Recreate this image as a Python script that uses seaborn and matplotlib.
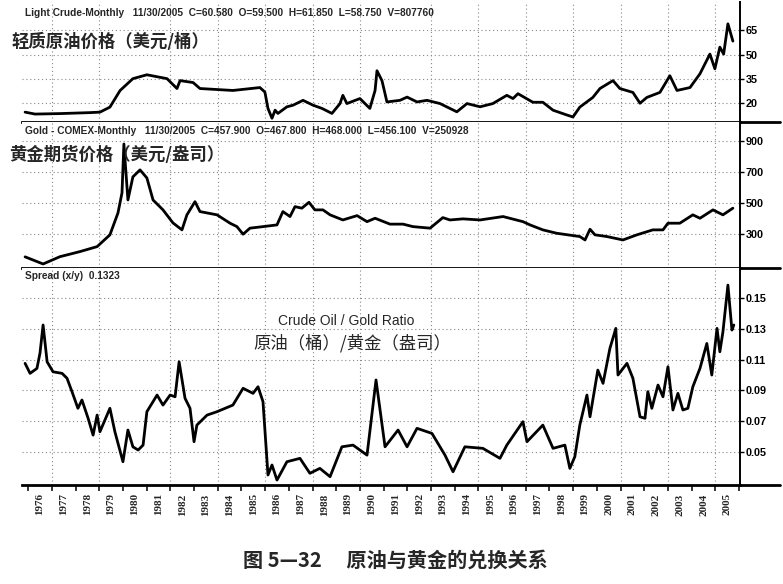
import numpy as np
import pandas as pd
import matplotlib
matplotlib.use("Agg")
import matplotlib.pyplot as plt
import seaborn as sns
from matplotlib.ticker import FixedLocator

# Data (x in years; tick marks sit at year starts)
oil_years = [1975.87, 1976.29, 1977.34, 1978.61, 1979.03, 1979.45, 1979.88, 1980.42, 1981.01,
             1981.86, 1982.28, 1982.41, 1982.96, 1983.25, 1984.64, 1985.78, 1985.99, 1986.12,
             1986.29, 1986.42, 1986.54, 1986.92, 1987.18, 1987.60, 1988.02, 1988.40, 1988.82,
             1989.16, 1989.28, 1989.45, 1990.00, 1990.42, 1990.64, 1990.72, 1990.93, 1991.06,
             1991.14, 1991.69, 1991.99, 1992.41, 1992.83, 1993.38, 1994.09, 1994.52, 1995.07,
             1995.61, 1996.20, 1996.46, 1996.67, 1997.30, 1997.72, 1998.15, 1998.74, 1998.99,
             1999.28, 1999.83, 2000.13, 2000.68, 2000.97, 2001.52, 2001.82, 2002.11, 2002.66,
             2003.08, 2003.38, 2003.93, 2004.35, 2004.77, 2004.98, 2005.19, 2005.35, 2005.53,
             2005.74]
oil_price = [14.5, 13.3, 13.6, 14.2, 14.5, 17.6, 27.9, 35.2, 37.6,
             35.2, 29.1, 34.0, 32.8, 29.1, 27.9, 29.7, 26.9, 16.8,
             10.7, 15.7, 13.7, 17.8, 18.8, 21.8, 18.8, 16.8, 13.7,
             19.8, 24.9, 19.8, 22.9, 16.8, 27.9, 40.1, 34.0, 25.9,
             20.8, 21.8, 23.8, 20.8, 21.8, 19.8, 14.7, 19.8, 17.8,
             19.8, 24.9, 22.9, 25.9, 20.6, 20.6, 15.7, 12.7, 11.5,
             17.6, 23.6, 29.1, 34.0, 29.1, 26.7, 20.0, 23.6, 26.7,
             37.0, 27.9, 29.7, 38.2, 50.4, 41.3, 54.7, 50.4, 69.1,
             58.4]

gold_years = [1975.87, 1976.63, 1977.34, 1978.19, 1978.91, 1979.45, 1979.79, 1979.96, 1980.04,
              1980.21, 1980.42, 1980.72, 1981.01, 1981.27, 1981.69, 1982.11, 1982.49, 1982.70,
              1983.04, 1983.25, 1983.97, 1984.52, 1984.81, 1985.07, 1985.36, 1985.91, 1986.50,
              1986.75, 1987.05, 1987.26, 1987.55, 1987.85, 1988.10, 1988.44, 1988.74, 1989.28,
              1989.88, 1990.30, 1990.64, 1991.27, 1991.82, 1992.24, 1992.96, 1993.50, 1993.80,
              1994.35, 1995.07, 1996.04, 1996.88, 1997.18, 1997.72, 1998.31, 1999.28, 1999.50,
              1999.71, 1999.92, 2000.42, 2001.10, 2001.69, 2002.36, 2002.79, 2003.00, 2003.50,
              2004.05, 2004.35, 2004.90, 2005.32, 2005.74]
gold_price = [152, 106, 153, 186, 218, 294, 435, 565, 880,
              519, 668, 713, 661, 519, 455, 371, 326, 423,
              508, 444, 423, 369, 347, 298, 337, 347, 358,
              444, 412, 476, 466, 504, 455, 455, 423, 390,
              418, 379, 401, 363, 363, 347, 337, 405, 390,
              397, 390, 412, 379, 358, 326, 304, 283, 261,
              330, 294, 283, 261, 294, 326, 326, 369, 369,
              423, 401, 455, 423, 466]

ratio_years = [1975.87, 1976.08, 1976.37, 1976.50, 1976.63, 1976.80, 1977.05, 1977.43, 1977.64,
               1977.85, 1978.10, 1978.27, 1978.53, 1978.74, 1978.91, 1979.03, 1979.45, 1979.66,
               1980.00, 1980.21, 1980.42, 1980.64, 1980.85, 1981.01, 1981.44, 1981.69, 1981.99,
               1982.20, 1982.37, 1982.62, 1982.83, 1983.00, 1983.12, 1983.55, 1983.97, 1984.64,
               1985.07, 1985.49, 1985.70, 1985.91, 1986.12, 1986.29, 1986.50, 1986.92, 1987.47,
               1987.89, 1988.31, 1988.74, 1989.24, 1989.71, 1990.30, 1990.68, 1991.06, 1991.61,
               1991.99, 1992.41, 1993.04, 1993.59, 1993.93, 1994.43, 1995.19, 1995.91, 1996.20,
               1996.88, 1997.05, 1997.72, 1998.15, 1998.65, 1998.86, 1999.07, 1999.28, 1999.58,
               1999.71, 2000.04, 2000.26, 2000.55, 2000.80, 2000.89, 2001.27, 2001.52, 2001.82,
               2002.03, 2002.15, 2002.32, 2002.58, 2002.79, 2003.00, 2003.21, 2003.42, 2003.63,
               2003.84, 2004.05, 2004.35, 2004.64, 2004.85, 2005.07, 2005.19, 2005.32, 2005.53,
               2005.70, 2005.78]
ratio_vals = [0.1076, 0.1011, 0.1043, 0.1143, 0.1325, 0.1086, 0.1021, 0.1011, 0.0979,
              0.0892, 0.0784, 0.0838, 0.0719, 0.0610, 0.0740, 0.0632, 0.0784, 0.0632,
              0.0437, 0.0643, 0.0534, 0.0513, 0.0545, 0.0762, 0.0870, 0.0805, 0.0870,
              0.0859, 0.1086, 0.0849, 0.0784, 0.0567, 0.0675, 0.0740, 0.0762, 0.0805,
              0.0914, 0.0881, 0.0924, 0.0827, 0.0351, 0.0416, 0.0318, 0.0437, 0.0459,
              0.0362, 0.0394, 0.0340, 0.0534, 0.0545, 0.0480, 0.0968, 0.0534, 0.0643,
              0.0534, 0.0654, 0.0621, 0.0480, 0.0372, 0.0534, 0.0524, 0.0459, 0.0545,
              0.0697, 0.0567, 0.0675, 0.0524, 0.0545, 0.0394, 0.0470, 0.0675, 0.0870,
              0.0729, 0.1032, 0.0946, 0.1173, 0.1303, 0.1000, 0.1076, 0.0979, 0.0729,
              0.0719, 0.0892, 0.0784, 0.0935, 0.0859, 0.1054, 0.0773, 0.0881, 0.0773,
              0.0784, 0.0924, 0.1043, 0.1205, 0.1000, 0.1303, 0.1151, 0.1281, 0.1584,
              0.1292, 0.1325]

year_labels = list(range(1976, 2006))
oil_ticks = [20, 35, 50, 65]
gold_ticks = [300, 500, 700, 900]
ratio_ticks = [0.05, 0.07, 0.09, 0.11, 0.13, 0.15]

sns.set_theme(style="white")
plt.rcParams['font.family'] = ['Noto Sans CJK SC', 'DejaVu Sans']
plt.rcParams['axes.unicode_minus'] = False

W, H = 783, 584
fig = plt.figure(figsize=(W / 100, H / 100), dpi=100)

def px(x0, y0, x1, y1):
    return [x0 / W, 1 - y1 / H, (x1 - x0) / W, (y1 - y0) / H]

ax1 = fig.add_axes(px(22, 2, 740, 122))
ax2 = fig.add_axes(px(22, 122, 740, 268))
ax3 = fig.add_axes(px(22, 268, 740, 485))

grid_years = [1977, 1979, 1982, 1984, 1986, 1988, 1990, 1993, 1995, 1997, 1999, 2001, 2003, 2005]
dot = (0, (1, 2.5))

panels = [
    (ax1, oil_years, oil_price, oil_ticks, (8.4, 82.6), "{:g}"),
    (ax2, gold_years, gold_price, gold_ticks, (80, 1022), "{:g}"),
    (ax3, ratio_years, ratio_vals, ratio_ticks, (0.0286, 0.1695), "{:.2f}"),
]
for ax, xs, ys, ticks, ylim, fmt in panels:
    df = pd.DataFrame({"year": xs, "val": ys})
    sns.lineplot(data=df, x="year", y="val", ax=ax, color="black", lw=2.0)
    ax.set_xlim(1975.74, 2006.04)
    ax.set_ylim(*ylim)
    ax.set_xlabel("")
    ax.set_ylabel("")
    for s in ("top", "left"):
        ax.spines[s].set_visible(False)
    ax.spines["bottom"].set_linewidth(2.0)
    ax.spines["right"].set_linewidth(1.4)
    ax.spines["bottom"].set_color("black")
    ax.spines["right"].set_color("black")
    ax.plot([1, 1.056], [0, 0], transform=ax.transAxes, clip_on=False, color="black", lw=2.0)
    ax.yaxis.tick_right()
    ax.set_yticks(ticks)
    ax.set_yticklabels([fmt.format(t) for t in ticks])
    ax.tick_params(axis="y", right=True, direction="out", length=3, width=1, pad=1,
                   labelsize=7.8, colors="black")
    for lab in ax.get_yticklabels():
        lab.set_fontfamily("Liberation Sans")
        lab.set_fontweight("bold")
    for t in ticks:
        ax.axhline(t, color="#888888", lw=0.8, ls=dot, zorder=0)
    for g in grid_years:
        ax.axvline(g, color="#888888", lw=0.8, ls=dot, zorder=0)
    ax.set_facecolor("white")

for ax in (ax1, ax2):
    ax.set_xticks([])

ax3.xaxis.set_major_locator(FixedLocator([y + 0.5 for y in year_labels]))
ax3.set_xticklabels([str(y) for y in year_labels], rotation=90)
ax3.xaxis.set_minor_locator(FixedLocator(year_labels + [2006]))
ax3.tick_params(axis="x", which="major", bottom=True, length=0, pad=6, labelsize=8)
ax3.tick_params(axis="x", which="minor", bottom=True, length=4, width=1.1, color="black")
for lab in ax3.get_xticklabels():
    lab.set_fontfamily("Liberation Serif")
    lab.set_fontweight("bold")

def ftext(x, y, s, **kw):
    fig.text(x / W, 1 - y / H, s, **kw)

hdr = dict(fontsize=7.3, fontweight="bold", family="Liberation Sans", va="center", ha="left")
ftext(25, 13, "Light Crude-Monthly   11/30/2005  C=60.580  O=59.500  H=61.850  L=58.750  V=807760", **hdr)
ftext(25, 131, "Gold - COMEX-Monthly   11/30/2005  C=457.900  O=467.800  H=468.000  L=456.100  V=250928", **hdr)
ftext(25, 276, "Spread (x/y)  0.1323", **hdr)

cjk = dict(fontsize=12.5, fontweight="bold", va="center", ha="left",
           family=["Noto Sans CJK SC", "DejaVu Sans"])
ftext(11, 42, "轻质原油价格（美元/桶）", **cjk)
ftext(9, 155, "黄金期货价格（美元/盎司）", **cjk)

ftext(346, 321, "Crude Oil / Gold Ratio", fontsize=10, family="Liberation Sans",
      ha="center", va="center")
ftext(352, 343, "原油（桶）/黄金（盎司）", fontsize=12.5, ha="center", va="center",
      fontweight="medium", family=["Noto Sans CJK SC", "DejaVu Sans"])

ftext(395, 560, "图 5—32　 原油与黄金的兑换关系", fontsize=14.5, fontweight="bold",
      ha="center", va="center", family=["Noto Sans CJK SC", "DejaVu Sans"])

fig.savefig("out.png", dpi=100, facecolor="white")
